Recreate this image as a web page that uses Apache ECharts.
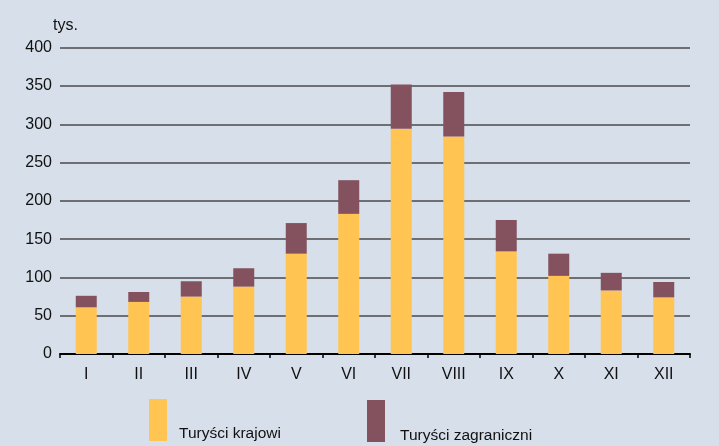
<!DOCTYPE html>
<html>
<head>
<meta charset="utf-8">
<script src="https://cdn.jsdelivr.net/npm/echarts@6/dist/echarts.min.js"></script>
<style>
    html, body { margin: 0; padding: 0; background: #d6dfea; }
    #chart { width: 719px; height: 446px; }
</style>
</head>
<body>
<div id="chart"></div>
<script>
    var months = ['I', 'II', 'III', 'IV', 'V', 'VI', 'VII', 'VIII', 'IX', 'X', 'XI', 'XII'];
    var krajowi = [61, 68, 75, 88, 131, 183, 294, 284, 134, 102, 83, 74];
    var zagraniczni = [15, 13, 20, 24, 40, 44, 58, 58, 41, 29, 23, 20];

    var font = "'Liberation Sans', Arial, sans-serif";
    var chart = echarts.init(document.getElementById('chart'));

    // legend text sits near the bottom of the tall colour box
    function legendOf(name, left, top, padTop, padLeft) {
        return {
            data: [name],
            left: left,
            top: top,
            padding: 0,
            icon: 'rect',
            itemWidth: 18,
            itemHeight: 42,
            formatter: '{t|{name}}',
            textStyle: {
                color: '#111',
                fontFamily: font,
                fontSize: 15.5,
                rich: {
                    t: { fontSize: 15.5, color: '#111', fontFamily: font, padding: [padTop, 0, 0, padLeft] }
                }
            }
        };
    }

    var option = {
        backgroundColor: '#d6dfea',
        animation: false,
        textStyle: { fontFamily: font },
        title: {
            text: 'tys.',
            left: 48,
            top: 13,
            textStyle: { fontSize: 16, fontWeight: 'normal', color: '#111', fontFamily: font }
        },
        legend: [
            legendOf('Turyści krajowi', 149, 399, 28, 7),
            legendOf('Turyści zagraniczni', 367, 400, 30, 10)
        ],
        grid: {
            left: 60,
            right: 29,
            top: 47.7,
            bottom: 446 - 354
        },
        xAxis: {
            type: 'category',
            data: months,
            offset: 1,
            axisLine: { lineStyle: { color: '#000', width: 2 } },
            axisTick: { show: true, length: 4, lineStyle: { color: '#000', width: 1.5 } },
            axisLabel: { color: '#111', fontSize: 16, margin: 12, fontFamily: font }
        },
        yAxis: {
            type: 'value',
            min: 0,
            max: 400,
            interval: 50,
            axisLine: { show: false },
            axisTick: { show: false },
            axisLabel: { color: '#111', fontSize: 16, margin: 8, fontFamily: font },
            splitLine: { lineStyle: { color: '#6e6f72', width: 2 } }
        },
        series: [
            {
                name: 'Turyści krajowi',
                type: 'bar',
                stack: 'total',
                barWidth: 21,
                data: krajowi,
                itemStyle: { color: '#ffc451' }
            },
            {
                name: 'Turyści zagraniczni',
                type: 'bar',
                stack: 'total',
                barWidth: 21,
                data: zagraniczni,
                itemStyle: { color: '#84525f' }
            }
        ]
    };
    chart.setOption(option);
</script>
</body>
</html>
